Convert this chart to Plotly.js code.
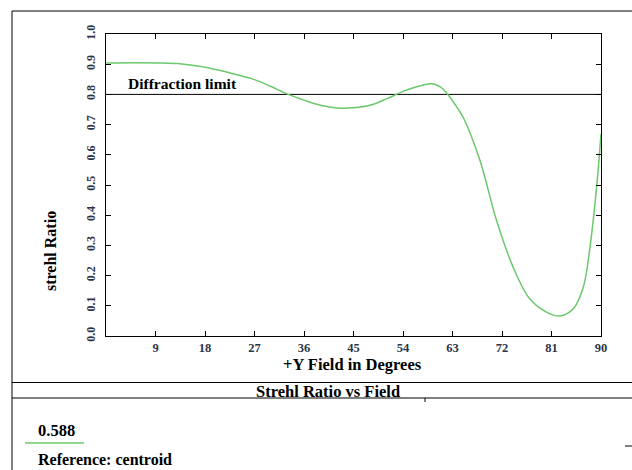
<!DOCTYPE html>
<html>
<head>
<meta charset="utf-8">
<script src="https://cdn.plot.ly/plotly-3.0.1.min.js"></script>
<style>
  html, body { margin: 0; padding: 0; background: #fff; }
  #chart { width: 632px; height: 470px; }
</style>
</head>
<body>
<div id="chart"></div>
<script>
// Strehl ratio across the +Y field (degrees)
const fieldDeg = [0, 5, 10, 13, 15, 18, 21, 24, 27, 30, 33, 36, 39, 42, 45, 48, 51, 54, 57, 59, 60, 61, 62, 63, 64, 65, 68, 71, 74, 77, 80, 82.5, 85, 86.8, 88, 89.2, 90];
const strehl = [0.904, 0.905, 0.904, 0.902, 0.898, 0.890, 0.878, 0.864, 0.849, 0.826, 0.801, 0.781, 0.764, 0.755, 0.756, 0.764, 0.785, 0.810, 0.828, 0.835, 0.832, 0.822, 0.803, 0.779, 0.752, 0.722, 0.581, 0.383, 0.229, 0.124, 0.080, 0.066, 0.091, 0.163, 0.295, 0.493, 0.669];

const diffractionLimit = 0.8;
const xTickVals = [9, 18, 27, 36, 45, 54, 63, 72, 81, 90];
const xTickText = ['9', '18', '27', '36', '45', '54', '63', '72', '81', '90'];
const yTickVals = [0, 0.1, 0.2, 0.3, 0.4, 0.5, 0.6, 0.7, 0.8, 0.9, 1.0];
const yTickText = ['0.0', '0.1', '0.2', '0.3', '0.4', '0.5', '0.6', '0.7', '0.8', '0.9', '1.0'];
const legendValue = '0.588';

const serif = '"Liberation Serif", "DejaVu Serif", serif';
const tickColor = '#2b3448';
const curveColor = '#6cc86c';

const traces = [
  {
    x: [0, 90],
    y: [diffractionLimit, diffractionLimit],
    mode: 'lines',
    line: { color: '#000', width: 1 },
    hoverinfo: 'skip'
  },
  {
    x: fieldDeg,
    y: strehl,
    mode: 'lines',
    line: { color: curveColor, width: 1.5, shape: 'spline', smoothing: 1 }
  }
];

// paper-coordinate helpers (plot area spans px 106..601 horizontally, 34..336 vertically)
const px = v => (v - 106) / 495;
const py = v => (336 - v) / 302;

const axisCommon = {
  ticks: 'inside',
  ticklen: 5,
  tickcolor: '#000',
  showline: true,
  linecolor: '#000',
  linewidth: 1,
  mirror: 'ticks',
  showgrid: false,
  zeroline: false
};

const layout = {
  width: 632,
  height: 470,
  margin: { l: 106, r: 31, t: 34, b: 134 },
  paper_bgcolor: '#fff',
  plot_bgcolor: '#fff',
  showlegend: false,
  xaxis: Object.assign({}, axisCommon, {
    range: [0, 90],
    tickvals: xTickVals,
    ticktext: xTickText,
    tickfont: { family: serif, size: 12.5, color: tickColor, weight: 'bold' }
  }),
  yaxis: Object.assign({}, axisCommon, {
    range: [0, 1],
    tickvals: yTickVals,
    ticktext: yTickText,
    tickangle: -90,
    ticklabelstandoff: 5,
    tickfont: { family: serif, size: 12, color: tickColor, weight: 'bold' }
  }),
  annotations: [
    {
      xref: 'x', yref: 'y', x: 3.7, y: diffractionLimit, yshift: 0,
      xanchor: 'left', yanchor: 'bottom', showarrow: false,
      text: '<b>Diffraction limit</b>',
      font: { family: serif, size: 15.5, color: '#000' }
    },
    {
      xref: 'paper', yref: 'paper', x: px(352.5), y: py(364),
      xanchor: 'center', yanchor: 'middle', showarrow: false,
      text: '<b>+Y Field in Degrees</b>',
      font: { family: serif, size: 16.5, color: '#000' }
    },
    {
      xref: 'paper', yref: 'paper', x: px(50), y: py(251),
      xanchor: 'center', yanchor: 'middle', showarrow: false, textangle: -90,
      text: '<b>strehl Ratio</b>',
      font: { family: serif, size: 16, color: '#000' }
    },
    {
      xref: 'paper', yref: 'paper', x: px(328), y: py(391),
      xanchor: 'center', yanchor: 'middle', showarrow: false,
      text: '<b>Strehl Ratio vs Field</b>',
      font: { family: serif, size: 16.5, color: '#000' }
    },
    {
      xref: 'paper', yref: 'paper', x: px(36), y: py(430),
      xanchor: 'left', yanchor: 'middle', showarrow: false,
      text: '<b>' + legendValue + '</b>',
      font: { family: serif, size: 16.5, color: '#000' }
    },
    {
      xref: 'paper', yref: 'paper', x: px(36), y: py(459),
      xanchor: 'left', yanchor: 'middle', showarrow: false,
      text: '<b>Reference: centroid</b>',
      font: { family: serif, size: 16, color: '#000' }
    }
  ],
  shapes: [
    // outer frame
    { type: 'line', xref: 'paper', yref: 'paper', x0: px(12), x1: px(640), y0: py(11), y1: py(11), line: { color: '#000', width: 1 } },
    { type: 'line', xref: 'paper', yref: 'paper', x0: px(12), x1: px(12), y0: py(11), y1: py(480), line: { color: '#000', width: 1 } },
    // title band separators
    { type: 'line', xref: 'paper', yref: 'paper', x0: px(12), x1: px(640), y0: py(382.5), y1: py(382.5), line: { color: '#000', width: 1 } },
    { type: 'line', xref: 'paper', yref: 'paper', x0: px(12), x1: px(640), y0: py(398), y1: py(398), line: { color: '#000', width: 1 } },
    { type: 'line', xref: 'paper', yref: 'paper', x0: px(425), x1: px(425), y0: py(398), y1: py(402), line: { color: '#000', width: 1 } },
    { type: 'line', xref: 'paper', yref: 'paper', x0: px(625), x1: px(640), y0: py(446), y1: py(446), line: { color: '#000', width: 1 } },
    // legend swatch
    { type: 'line', xref: 'paper', yref: 'paper', x0: px(25), x1: px(84), y0: py(443), y1: py(443), line: { color: curveColor, width: 1.5 } }
  ]
};

Plotly.newPlot('chart', traces, layout, { displayModeBar: false, staticPlot: true });
</script>
</body>
</html>
